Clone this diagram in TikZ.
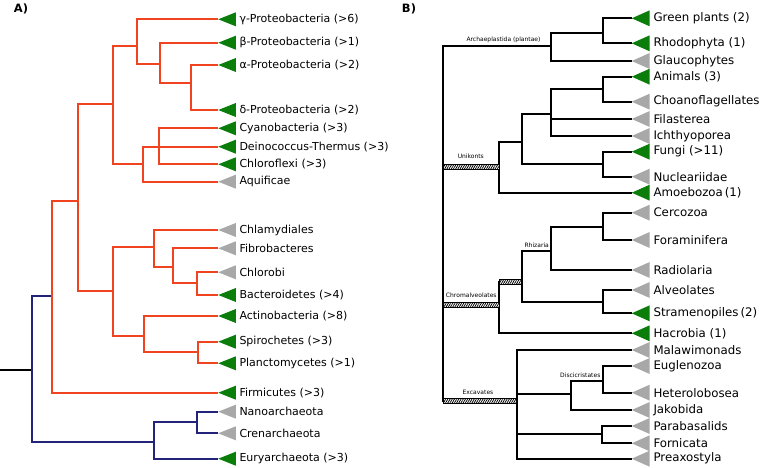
\documentclass[tikz,border=0pt]{standalone}
\usepackage{fontspec}
\setmainfont{DejaVu Sans}
\usetikzlibrary{patterns.meta,calc}
\definecolor{tred}{HTML}{F0431F}
\definecolor{tblue}{HTML}{23237A}
\definecolor{tgreen}{HTML}{0A7D0A}
\definecolor{tgray}{HTML}{A8A8A8}
\begin{document}
\begin{tikzpicture}[x=1pt,y=-1pt,
  br/.style={line width=2pt},
  labA/.style={anchor=west,inner sep=0pt,font=\fontsize{11}{13}\selectfont},
  labB/.style={anchor=west,inner sep=0pt,font=\fontsize{11.8}{14}\selectfont},
  clade/.style={inner sep=0pt,font=\fontsize{6}{7}\selectfont},
  panel/.style={inner sep=0pt,font=\bfseries\fontsize{11.5}{13}\selectfont},
  hatchbar/.style={draw=black,line width=0.8pt,fill=white,
    postaction={pattern={Lines[angle=60,distance=1.9pt,line width=0.8pt]}}}]
\useasboundingbox (0,0) rectangle (760,468);

\node[panel] (pA) at (21,9) {A)};
\node[panel] (pB) at (409,9) {B)};

% ---------- Panel A: internal nodes ----------
\coordinate (nAD) at (190.7,82.7);
\coordinate (nB) at (160,64);
\coordinate (nG) at (136.7,46);
\coordinate (nCy) at (159.3,146.7);
\coordinate (nCA) at (142.7,164.3);
\coordinate (nPr) at (112.7,104.3);
\coordinate (nCh) at (154.3,246.7);
\coordinate (nFi) at (172.7,266.7);
\coordinate (nCb) at (197.3,282.7);
\coordinate (nAc) at (144.3,336);
\coordinate (nSp) at (197.7,351.7);
\coordinate (nCB) at (112.7,290.7);
\coordinate (nBB) at (78.3,201);
\coordinate (nBac) at (51.7,295.7);
\coordinate (nNC) at (197.3,422.3);
\coordinate (nArc) at (154.3,442.3);
\coordinate (nRoot) at (31.7,370);
\coordinate (nStem) at (0,370);

% ---------- Panel A: leaves ----------
\foreach \n/\y/\c/\lbl in {
  gam/19.3/tgreen/γ-Proteobacteria (>6),
  bet/42.7/tgreen/β-Proteobacteria (>1),
  alp/65/tgreen/α-Proteobacteria (>2),
  del/110/tgreen/δ-Proteobacteria (>2),
  cya/128.3/tgreen/Cyanobacteria (>3),
  dei/146.7/tgreen/Deinococcus-Thermus (>3),
  chf/164.3/tgreen/Chloroflexi (>3),
  aqu/181.7/tgray/Aquificae,
  chl/230/tgray/Chlamydiales,
  fib/248.3/tgray/Fibrobacteres,
  clb/272.3/tgray/Chlorobi,
  bac/295/tgreen/Bacteroidetes (>4),
  act/316/tgreen/Actinobacteria (>8),
  spi/341.7/tgreen/Spirochetes (>3),
  pla/363.3/tgreen/Planctomycetes (>1),
  fir/392.7/tgreen/Firmicutes (>3),
  nan/411.7/tgray/Nanoarchaeota,
  cre/433.3/tgray/Crenarchaeota,
  eur/458.7/tgreen/Euryarchaeota (>3)}
{
  \coordinate (t\n) at (218.3,\y);
  \node[labA] (l\n) at ($(t\n)+(21,0)$) {\lbl};
}

% ---------- Panel A: branches ----------
\draw[br,black] (nStem) -- (nRoot);
\foreach \p/\q in {nRoot/nBac,nRoot/nArc,nArc/nNC,nArc/teur,nNC/tnan,nNC/tcre}
  \draw[br,tblue] (\p) |- (\q);
\foreach \p/\q in {nAD/talp,nAD/tdel,nB/tbet,nB/nAD,nG/tgam,nG/nB,
  nCy/tcya,nCy/tdei,nCy/tchf,nCA/nCy,nCA/taqu,nPr/nG,nPr/nCA,
  nCh/tchl,nCh/nFi,nFi/tfib,nFi/nCb,nCb/tclb,nCb/tbac,
  nAc/tact,nAc/nSp,nSp/tspi,nSp/tpla,nCB/nCh,nCB/nAc,
  nBB/nPr,nBB/nCB,nBac/nBB,nBac/tfir}
  \draw[br,tred] (\p) |- (\q);

% triangles A
\foreach \n/\c in {gam/tgreen,bet/tgreen,alp/tgreen,del/tgreen,cya/tgreen,
  dei/tgreen,chf/tgreen,aqu/tgray,chl/tgray,fib/tgray,clb/tgray,bac/tgreen,
  act/tgreen,spi/tgreen,pla/tgreen,fir/tgreen,nan/tgray,cre/tgray,eur/tgreen}
  \fill[\c] (t\n) -- ++(17.5,-7) -- ++(0,14) -- cycle;

% ---------- Panel B: internal nodes ----------
\coordinate (mGR) at (602.7,32.7);
\coordinate (mArc) at (550.7,46);
\coordinate (mAn) at (602.7,89.3);
\coordinate (mHol) at (550.7,114);
\coordinate (mFun) at (602.7,164.3);
\coordinate (mOp) at (521.7,141.7);
\coordinate (mUni) at (499,166.6);
\coordinate (mCF) at (602.7,226.7);
\coordinate (mRhi) at (550.7,250.7);
\coordinate (mAS) at (603.3,301.7);
\coordinate (mSAR) at (521.7,282);
\coordinate (mChr) at (499,304.5);
\coordinate (mDis) at (602.7,380.7);
\coordinate (mDJ) at (570.7,394);
\coordinate (mPF) at (601.7,434);
\coordinate (mExc) at (516.7,400.5);
\coordinate (mRoot) at (443.3,200);

% ---------- Panel B: leaves ----------
\foreach \n/\y/\lbl in {
  gre/18.3/Green plants (2),
  rho/43.3/Rhodophyta (1),
  gla/61/Glaucophytes,
  ani/76.7/Animals (3),
  cho/101.7/Choanoflagellates,
  fil/119/Filasterea,
  ich/136/Ichthyoporea,
  fun/151.7/Fungi (>11),
  nuc/176.7/Nucleariidae,
  amo/192.7/Amoebozoa\,(1),
  cer/212.7/Cercozoa,
  for/240/Foraminifera,
  rad/270/Radiolaria,
  alv/290/Alveolates,
  str/313.3/Stramenopiles\,(2),
  hac/333.3/Hacrobia (1),
  mal/350/Malawimonads,
  eug/366/Euglenozoa,
  het/392.7/Heterolobosea,
  jak/410/Jakobida,
  par/426/Parabasalids,
  forn/443.3/Fornicata,
  pre/458.7/Preaxostyla}
{
  \coordinate (b\n) at (631.7,\y);
  \node[labB] (k\n) at ($(b\n)+(21.6,0)$) {\lbl};
}

% ---------- Panel B: branches ----------
\foreach \p/\q in {mGR/bgre,mGR/brho,mArc/mGR,mArc/bgla,
  mAn/bani,mAn/bcho,mHol/mAn,mHol/bfil,mHol/bich,
  mFun/bfun,mFun/bnuc,mOp/mHol,mOp/mFun,mUni/mOp,mUni/bamo,
  mCF/bcer,mCF/bfor,mRhi/mCF,mRhi/brad,mAS/balv,mAS/bstr,
  mSAR/mRhi,mSAR/mAS,mChr/mSAR,mChr/bhac,
  mDis/beug,mDis/bhet,mDJ/mDis,mDJ/bjak,mPF/bpar,mPF/bforn,
  mExc/bmal,mExc/mDJ,mExc/mPF,mExc/bpre,
  mRoot/mArc,mRoot/mUni,mRoot/mChr,mRoot/mExc}
  \draw[br,black] (\p) |- (\q);

% hatched bars
\foreach \p/\q in {mRoot/mUni,mRoot/mChr,mRoot/mExc,mChr/mSAR}
  \draw[hatchbar] ($(\p |- \q)+(0,-2.4)$) rectangle ($(\q)+(0,2.4)$);

% triangles B
\foreach \n/\c in {gre/tgreen,rho/tgreen,gla/tgray,ani/tgreen,cho/tgray,
  fil/tgray,ich/tgray,fun/tgreen,nuc/tgray,amo/tgreen,cer/tgray,for/tgray,
  rad/tgray,alv/tgray,str/tgreen,hac/tgreen,mal/tgray,eug/tgray,het/tgray,
  jak/tgray,par/tgray,forn/tgray,pre/tgray}
  \fill[\c] (b\n) -- ++(18,-8) -- ++(0,16) -- cycle;

% clade labels
\node[clade] (cArc) at (503.5,39.5) {Archaeplastida (plantae)};
\node[clade] (cUni) at (470.8,156.5) {Unikonts};
\node[clade] (cChr) at (471.3,295.3) {Chromalveolates};
\node[clade] (cRhi) at (536.7,245) {Rhizaria};
\node[clade] (cExc) at (478,392.7) {Excavates};
\node[clade] (cDis) at (580.3,375.3) {Discicristates};
\end{tikzpicture}
\end{document}
